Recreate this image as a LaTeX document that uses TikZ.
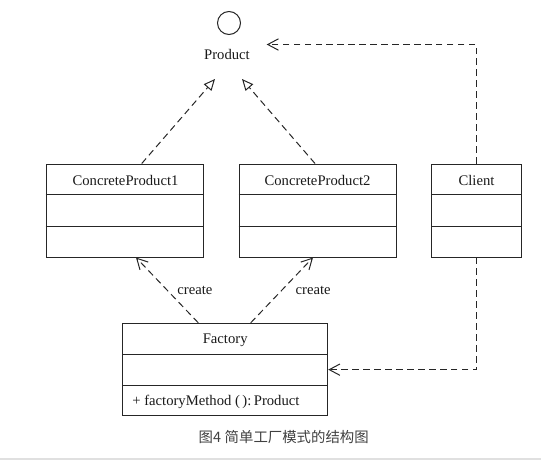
\documentclass[tikz,border=0pt]{standalone}
\usepackage{fontspec}
\setmainfont{Liberation Serif}
\newfontfamily\cjkfont{Noto Sans CJK SC}
\usetikzlibrary{arrows.meta,calc}

\tikzset{every picture/.style={line width=0.75pt}}
\tikzset{
	classbox/.style={draw=black!85, rectangle, inner sep=0pt},
	realize/.style={draw=black!85, dash pattern=on 5pt off 3.2pt, -{Triangle[open,length=8.5pt,width=7.5pt]}},
	depend/.style={draw=black!85, dash pattern=on 5pt off 3.2pt, -{Straight Barb[length=8pt,width=8.5pt]}},
	umltext/.style={font=\fontsize{11}{13}\selectfont, text=black!90}
}

\begin{document}
\begin{tikzpicture}[x=0.75pt,y=0.75pt,yscale=-1]
	\useasboundingbox (0,0) rectangle (541,461);

	%Shape: Circle
	\node [draw=black!85, circle, minimum size=17.25pt, inner sep=0pt] (prodicon) at (229,23) {};
	% Text Node
	\node [umltext] (prod) at (227,54) {Product};

	%Shape: Rectangle
	\node [classbox, minimum width=118.1pt, minimum height=69.75pt] (cp1) at (124.75,210.5) {};
	%Shape: Rectangle
	\node [classbox, minimum width=117.75pt, minimum height=69.75pt] (cp2) at (317.5,210.5) {};
	%Shape: Rectangle
	\node [classbox, minimum width=67.5pt, minimum height=69.75pt] (client) at (476.5,210.5) {};
	%Shape: Rectangle
	\node [classbox, minimum width=153.75pt, minimum height=69.5pt] (factory) at (225.2,369.65) {};

	%Straight Lines
	\foreach \c in {cp1,cp2,client,factory}{
		\draw [black!85] ($(\c.north west)!1/3!(\c.south west)$) -- ($(\c.north east)!1/3!(\c.south east)$) ;
		\draw [black!85] ($(\c.north west)!2/3!(\c.south west)$) -- ($(\c.north east)!2/3!(\c.south east)$) ;
	}

	% Text Node
	\node [umltext] (cp1name) at (125.5,180.5) {ConcreteProduct1};
	% Text Node
	\node [umltext] (cp2name) at (317.5,180.5) {ConcreteProduct2};
	% Text Node
	\node [umltext] (clientname) at (476.5,180.5) {Client};
	% Text Node
	\node [umltext] (factoryname) at (225.2,340) {Factory};
	% Text Node
	\node [umltext, anchor=west] (fmethod) at (127.4,401.7) {+ factoryMethod (\,):\,Product};

	%Straight Lines
	\draw [realize] ($(cp1.north)+(17,0)$) -- ($(prod)+(-12,25)$) ;
	%Straight Lines
	\draw [realize] ($(cp2.north)+(-2.5,0)$) -- ($(prod)+(15,25)$) ;
	%Straight Lines
	\draw [depend] (client.north) |- ($(prod)+(39.7,-9.5)$) ;
	%Straight Lines
	\draw [depend] (client.south) |- (factory.east) ;
	%Straight Lines
	\draw [depend] ($(factory.north)+(-26.9,0)$) -- ($(cp1.south)+(11.25,0)$) node [umltext, midway, right=4pt] (create1) {create} ;
	%Straight Lines
	\draw [depend] ($(factory.north)+(25.5,0)$) -- ($(cp2.south)+(-4.5,0)$) node [umltext, midway, right=6.7pt] (create2) {create} ;

	% Text Node
	\node [font=\cjkfont\fontsize{10.8}{12}\selectfont, text=black!75] (caption) at (283.7,436.7) {图4\hspace{0.25em}简单工厂模式的结构图};
	%Straight Lines
	\draw [black!12, line width=1.5pt] (0,458.5) -- (541,458.5) ;

\end{tikzpicture}
\end{document}
